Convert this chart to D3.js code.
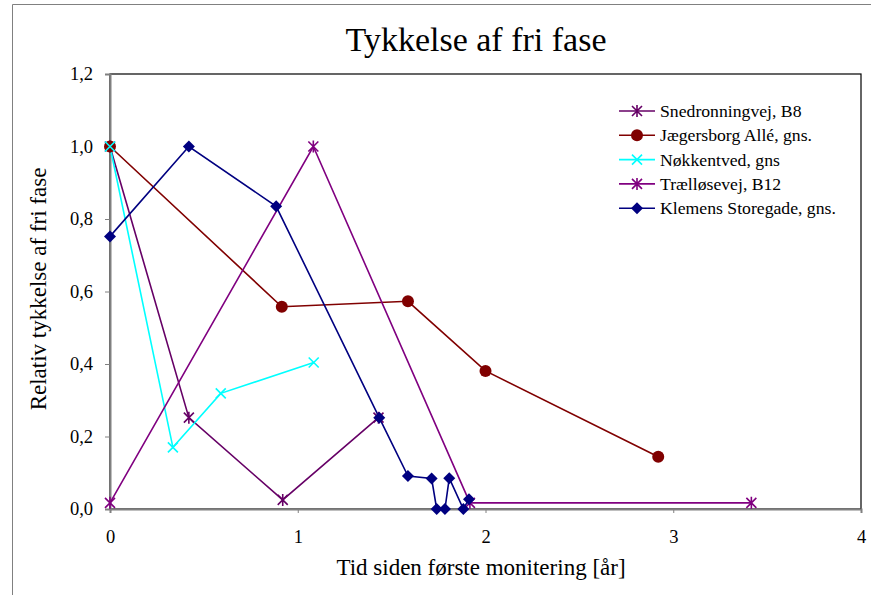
<!DOCTYPE html>
<html>
<head>
<meta charset="utf-8">
<script src="https://cdn.jsdelivr.net/npm/d3@7"></script>
<style>
  body { margin: 0; background: #fff; }
</style>
</head>
<body>
<div id="chart"></div>
<script>
// Data
const seriesNames = [
  "Snedronningvej, B8",
  "Jægersborg Allé,  gns.",
  "Nøkkentved, gns",
  "Trælløsevej, B12",
  "Klemens Storegade, gns."
];

const snedronningX = [0, 0.42, 0.92, 1.43];
const snedronningY = [1.0, 0.252, 0.025, 0.252];

const jaegersborgX = [0, 0.915, 1.587, 2.0, 2.92];
const jaegersborgY = [1.0, 0.558, 0.573, 0.381, 0.144];

const noekkentvedX = [0, 0.335, 0.59, 1.085];
const noekkentvedY = [1.0, 0.17, 0.319, 0.404];

const traelloesevejX = [0, 1.083, 1.917, 3.416];
const traelloesevejY = [0.017, 1.0, 0.017, 0.017];

const klemensX = [0, 0.42, 0.885, 1.434, 1.587, 1.713, 1.74, 1.784, 1.807, 1.882, 1.912];
const klemensY = [0.752, 1.0, 0.835, 0.252, 0.091, 0.084, 0, 0, 0.085, 0, 0.027];

const xTicks = [0, 1, 2, 3, 4];
const yTicks = [0, 0.2, 0.4, 0.6, 0.8, 1.0, 1.2];

const colors = ["#660066", "#800000", "#00ffff", "#800080", "#000080"];
const markers = ["star", "circle", "cross", "star", "diamond"];

const FONT = "'Liberation Serif', 'Times New Roman', 'DejaVu Serif', serif";
const width = 871, height = 595;
const margin = { top: 74, right: 10, bottom: 86, left: 110 };

const series = [
  [snedronningX, snedronningY],
  [jaegersborgX, jaegersborgY],
  [noekkentvedX, noekkentvedY],
  [traelloesevejX, traelloesevejY],
  [klemensX, klemensY]
].map((xy, i) => ({
  name: seriesNames[i],
  color: colors[i],
  marker: markers[i],
  points: xy[0].map((x, j) => ({ x: x, y: xy[1][j] }))
}));

const svg = d3.select("#chart").append("svg")
  .attr("width", width)
  .attr("height", height)
  .attr("font-family", FONT);

const x = d3.scaleLinear().domain([0, 4]).range([margin.left, width - margin.right]);
const y = d3.scaleLinear().domain([0, 1.2]).range([height - margin.bottom, margin.top]);

// Plot area frame (top and right in black)
svg.append("rect")
  .attr("x", x(0))
  .attr("y", y(1.2))
  .attr("width", x(4) - x(0))
  .attr("height", y(0) - y(1.2))
  .attr("fill", "#fff")
  .attr("stroke", "#000")
  .attr("stroke-width", 1.2);

const fmt = d => d3.format(".1f")(d).replace(".", ",");

// Y axis
const yAxis = svg.append("g")
  .attr("transform", `translate(${x(0)},0)`)
  .call(d3.axisLeft(y).tickValues(yTicks).tickFormat(fmt).tickSize(5).tickPadding(12));
yAxis.attr("font-family", FONT);
yAxis.select(".domain").attr("stroke", "#808080").attr("stroke-width", 2);
yAxis.selectAll(".tick line").attr("stroke", "#808080");
yAxis.selectAll("text").attr("font-size", 18.5).attr("fill", "#000");

// X axis
const xAxis = svg.append("g")
  .attr("transform", `translate(0,${y(0)})`)
  .call(d3.axisBottom(x).tickValues(xTicks).tickFormat(d3.format("d")).tickSize(4).tickPadding(17));
xAxis.attr("font-family", FONT);
xAxis.select(".domain").attr("stroke", "#808080").attr("stroke-width", 2);
xAxis.selectAll(".tick line").attr("stroke", "#808080");
xAxis.selectAll("text").attr("font-size", 18.5).attr("fill", "#000");

// Lines
const line = d3.line().x(d => x(d.x)).y(d => y(d.y));

svg.selectAll(".series")
  .data(series)
  .join("path")
  .attr("class", "series")
  .attr("d", d => line(d.points))
  .attr("fill", "none")
  .attr("stroke", d => d.color)
  .attr("stroke-width", 1.6);

// Markers
function drawMarker(g, type, color) {
  if (type === "circle") {
    g.append("circle").attr("r", 6).attr("fill", color);
  } else if (type === "diamond") {
    g.append("path").attr("d", "M0,-6L6,0L0,6L-6,0Z").attr("fill", color);
  } else if (type === "cross") {
    g.append("path").attr("d", "M-5,-5L5,5M-5,5L5,-5")
      .attr("stroke", color).attr("stroke-width", 1.6);
  } else if (type === "star") {
    g.append("path").attr("d", "M-5,-5L5,5M-5,5L5,-5M0,-6L0,6")
      .attr("stroke", color).attr("stroke-width", 1.6);
  }
}

series.forEach(s => {
  s.points.forEach(p => {
    const g = svg.append("g").attr("transform", `translate(${x(p.x)},${y(p.y)})`);
    drawMarker(g, s.marker, s.color);
  });
});

// Title
svg.append("text")
  .attr("x", 476)
  .attr("y", 51)
  .attr("text-anchor", "middle")
  .attr("font-size", 34)
  .text("Tykkelse af fri fase");

// Axis titles
svg.append("text")
  .attr("x", 481)
  .attr("y", 575)
  .attr("text-anchor", "middle")
  .attr("font-size", 23)
  .text("Tid siden første monitering [år]");

svg.append("text")
  .attr("transform", `translate(46,289) rotate(-90)`)
  .attr("text-anchor", "middle")
  .attr("font-size", 23)
  .text("Relativ tykkelse af fri fase");

// Legend
const legend = svg.append("g").attr("transform", "translate(619,111)");
series.forEach((s, i) => {
  const g = legend.append("g").attr("transform", `translate(0,${i * 24.3})`);
  g.append("line").attr("x1", 0).attr("x2", 36).attr("y1", 0).attr("y2", 0)
    .attr("stroke", s.color).attr("stroke-width", 1.6);
  drawMarker(g.append("g").attr("transform", "translate(18,0)"), s.marker, s.color);
  g.append("text").attr("x", 41).attr("y", 6).attr("font-size", 17.7).text(s.name);
});

// Outer chart border
svg.append("path")
  .attr("d", `M12.5,${height}V4.5H${width}`)
  .attr("fill", "none")
  .attr("stroke", "#808080")
  .attr("stroke-width", 1);
</script>
</body>
</html>
